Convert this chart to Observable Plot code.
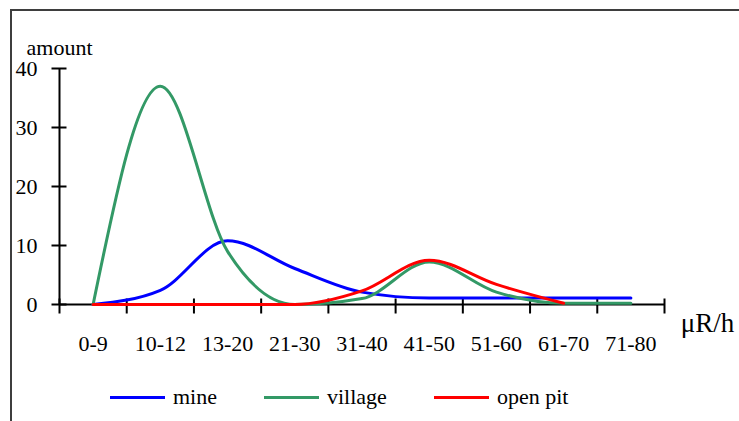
<!DOCTYPE html>
<html>
<head>
<meta charset="utf-8">
<script src="https://cdn.jsdelivr.net/npm/d3@7"></script>
<script src="https://cdn.jsdelivr.net/npm/@observablehq/plot@0.6"></script>
<style>
  html, body { margin: 0; padding: 0; background: #fff; overflow: hidden; }
  #page { position: relative; width: 739px; height: 421px; font-family: "Liberation Serif", "Times New Roman", serif; color: #000; }
  #frame { position: absolute; left: 10px; top: 9px; width: 800px; height: 500px; border: 2px solid #3e3e3e; box-sizing: border-box; pointer-events: none; }
  #chart svg { display: block; }
  #legend { position: relative; height: 34px; display: flex; align-items: center; padding-left: 110px; font-size: 22px; gap: 0; }
  .item { display: flex; align-items: center; margin-right: 47px; }
  .swatch { width: 55px; height: 3px; margin-right: 8px; }
</style>
</head>
<body>
<div id="page">
  <div id="chart"></div>
  <div id="legend"></div>
  <div id="frame"></div>
</div>
<script>
// ---- data ----
const categories = ["0-9", "10-12", "13-20", "21-30", "31-40", "41-50", "51-60", "61-70", "71-80"];
const mine    = [0, 2.4, 10.8, 6.1, 2.1, 1.1, 1.1, 1.1, 1.1];
const village = [0, 37, 9, 0, 1, 7.2, 2.1, 0.2, 0.2];
const openPit = [0, 0, 0, 0, 2.3, 7.5, 3.4, 0.2, null];
const seriesNames = ["mine", "village", "open pit"];
const seriesColors = ["#0000ff", "#339966", "#ff0000"];
const yTicks = [0, 10, 20, 30, 40];
const yLabel = "amount";
const xLabel = "μR/h";

// ---- build table ----
const seriesValues = [mine, village, openPit];
const rows = [];
seriesValues.forEach((vals, s) => {
  vals.forEach((v, i) => rows.push({series: seriesNames[s], i, value: v}));
});
const xEdges = d3.range(categories.length + 1).map(i => i - 0.5);
const x0 = xEdges[0];

// custom tick symbols (crossing tick marks like the original axes)
const hTick = {draw(ctx) { ctx.moveTo(-8, 0); ctx.lineTo(7, 0); }};
const vTick = {draw(ctx) { ctx.moveTo(0, -6); ctx.lineTo(0, 9); }};

const font = "Liberation Serif";

const plot = Plot.plot({
  width: 739,
  height: 380,
  marginTop: 68,
  marginBottom: 76,
  marginLeft: 59,
  marginRight: 75,
  x: {type: "linear", domain: [x0, categories.length - 0.5], axis: null},
  y: {domain: [0, 40], axis: null},
  color: {domain: seriesNames, range: seriesColors},
  style: {fontFamily: font, fontSize: "22px", background: "transparent", overflow: "visible", color: "#000"},
  marks: [
    // axes lines
    Plot.ruleX([x0], {y1: 0, y2: d3.max(yTicks), stroke: "#000", strokeWidth: 2}),
    Plot.ruleY([0], {x1: x0, x2: xEdges[xEdges.length - 1], stroke: "#000", strokeWidth: 2}),
    // tick marks
    Plot.dot(yTicks, {x: () => x0, y: d => d, symbol: hTick, fill: "none", stroke: "#000", strokeWidth: 2}),
    Plot.dot(xEdges, {x: d => d, y: () => 0, symbol: vTick, fill: "none", stroke: "#000", strokeWidth: 2}),
    // tick labels
    Plot.text(yTicks, {x: () => x0, y: d => d, text: d => String(d), dx: -22, textAnchor: "end", fontSize: 22, fill: "#000"}),
    Plot.text(categories, {x: (d, i) => i, y: () => 0, text: d => d, dy: 39, fontSize: 22, fill: "#000"}),
    // axis titles
    Plot.text([yLabel], {x: () => x0, y: () => d3.max(yTicks), text: d => d, dy: -21, fontSize: 22, fill: "#000"}),
    Plot.text([xLabel], {x: () => xEdges[xEdges.length - 1], y: () => 0, text: d => d, dx: 43, dy: 19, fontSize: 27, fill: "#000"}),
    // series lines
    ...seriesNames.map((name, s) =>
      Plot.line(rows.filter(r => r.series === name), {
        x: "i", y: "value", stroke: "series", strokeWidth: 3, curve: "monotone-x"
      })
    )
  ]
});
document.getElementById("chart").appendChild(plot);

// legend
const legend = document.getElementById("legend");
seriesNames.forEach((name, s) => {
  const item = document.createElement("div");
  item.className = "item";
  const sw = document.createElement("div");
  sw.className = "swatch";
  sw.style.background = seriesColors[s];
  const lab = document.createElement("span");
  lab.textContent = name;
  item.appendChild(sw);
  item.appendChild(lab);
  legend.appendChild(item);
});
</script>
</body>
</html>
